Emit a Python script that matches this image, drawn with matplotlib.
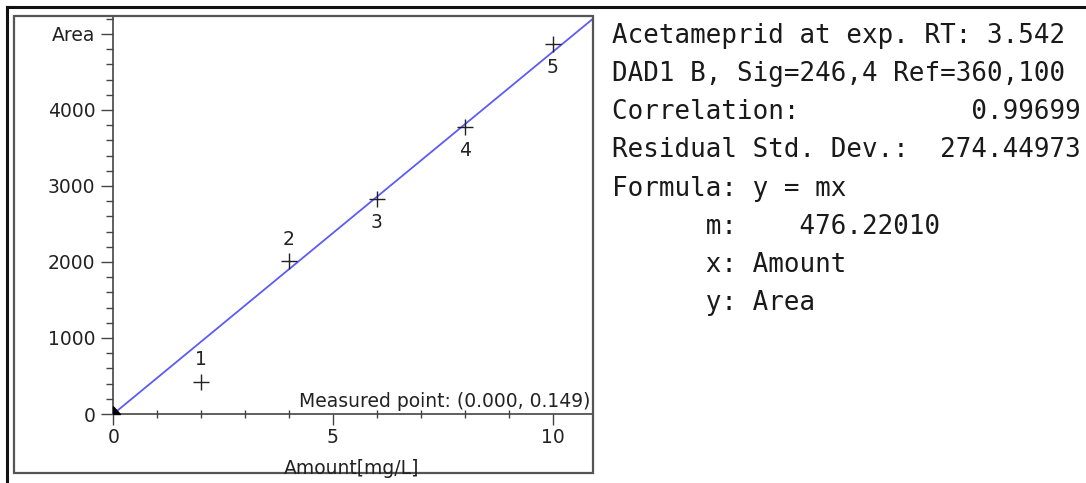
import numpy as np
import matplotlib
matplotlib.use("Agg")
import matplotlib.pyplot as plt
from matplotlib.patches import Rectangle
from matplotlib.lines import Line2D
from matplotlib.ticker import FixedLocator

# calibration levels and measured peak areas
amount = [2, 4, 6, 8, 10]
area = [420, 2007, 2830, 3781, 4867]
level_names = ["1", "2", "3", "4", "5"]
label_above = [True, True, False, False, False]

slope = 476.22010
measured = (0.000, 0.149)

info_lines = [
    "Acetameprid at exp. RT: 3.542",
    "DAD1 B, Sig=246,4 Ref=360,100",
    "Correlation:           0.99699",
    "Residual Std. Dev.:  274.44973",
    "Formula: y = mx",
    "      m:    476.22010",
    "      x: Amount",
    "      y: Area",
]

W, H = 1086, 483
fig = plt.figure(figsize=(W / 100, H / 100), dpi=100)
fig.patch.set_facecolor("white")

# outer frame (top and left edges)
fig.add_artist(Line2D([7 / W, 1.0], [1 - 6.5 / H, 1 - 6.5 / H], transform=fig.transFigure,
                      color="#111111", lw=2.2))
fig.add_artist(Line2D([7 / W, 7 / W], [0, 1 - 6.5 / H], transform=fig.transFigure,
                      color="#111111", lw=2.2))

left, right, top, bottom = 14, 593, 16, 473
ax = fig.add_axes([left / W, (H - bottom) / H, (right - left) / W, (bottom - top) / H])
ax.set_xlim(-2.26, 10.92)
ax.set_ylim(-776, 5236)

# chart box
ax.add_patch(Rectangle((0, 0), 1, 1, transform=ax.transAxes, fill=False,
                       edgecolor="#555555", lw=1.6, clip_on=False, zorder=5))

for s in ["top", "right"]:
    ax.spines[s].set_visible(False)
ax.spines["left"].set_position(("data", 0))
ax.spines["bottom"].set_position(("data", 0))
ax.spines["left"].set_bounds(0, 5236)
ax.spines["bottom"].set_bounds(0, 10.92)
for s in ["left", "bottom"]:
    ax.spines[s].set_color("#444444")
    ax.spines[s].set_linewidth(1.2)

tick_font = dict(family="DejaVu Sans", size=13.5)
ax.yaxis.set_major_locator(FixedLocator([0, 1000, 2000, 3000, 4000, 5000]))
ax.set_yticklabels(["0", "1000", "2000", "3000", "4000", "Area"], **tick_font)
ax.yaxis.set_minor_locator(FixedLocator([v for v in range(200, 5201, 200) if v % 1000]))
ax.xaxis.set_major_locator(FixedLocator([0, 5, 10]))
ax.set_xticklabels(["0", "5", "10"], **tick_font)
ax.xaxis.set_minor_locator(FixedLocator([1, 2, 3, 4, 6, 7, 8, 9]))

ax.tick_params(axis="y", which="major", direction="out", length=9, width=1, color="#444444",
               labelcolor="#222222", pad=4)
ax.tick_params(axis="y", which="minor", direction="out", length=5, width=1, color="#444444")
ax.tick_params(axis="x", which="major", direction="out", length=8, width=1, color="#444444",
               labelcolor="#222222", pad=2)
ax.tick_params(axis="x", which="minor", direction="inout", length=6, width=1, color="#444444")

# calibration line through the origin
xl = np.array([0, 10.92])
ax.plot(xl, slope * xl, color="#5c5cf5", lw=1.3, zorder=3)

ax.plot(amount, area, linestyle="none", marker="+", markersize=12, mew=1.0,
        color="#222222", zorder=4)
for x, y, name, up in zip(amount, area, level_names, label_above):
    ax.annotate(name, (x, y), xytext=(0, 16 if up else -17), textcoords="offset points",
                ha="center", va="center", color="#222222", **tick_font)

# measured point marker
ax.plot([measured[0]], [measured[1]], linestyle="none",
        marker=[(0, 0), (0, 1.1), (1.0, 0), (0, 0)], markersize=11,
        color="black", zorder=6, clip_on=False)
ax.text(10.86, 40, "Measured point: (%.3f, %.3f)" % measured,
        ha="right", va="bottom", color="#222222", **tick_font)

fig.text(352 / W, (H - 474) / H, "Amount[mg/L]", ha="center", va="baseline",
         color="#222222", **tick_font)

# result summary
for i, line in enumerate(info_lines):
    fig.text(612 / W, 1 - (42.7 + 38.2 * i) / H, line, ha="left", va="baseline",
             family="DejaVu Sans Mono", size=18.6, color="#1a1a1a")

fig.savefig("out.png", dpi=100, facecolor="white")
